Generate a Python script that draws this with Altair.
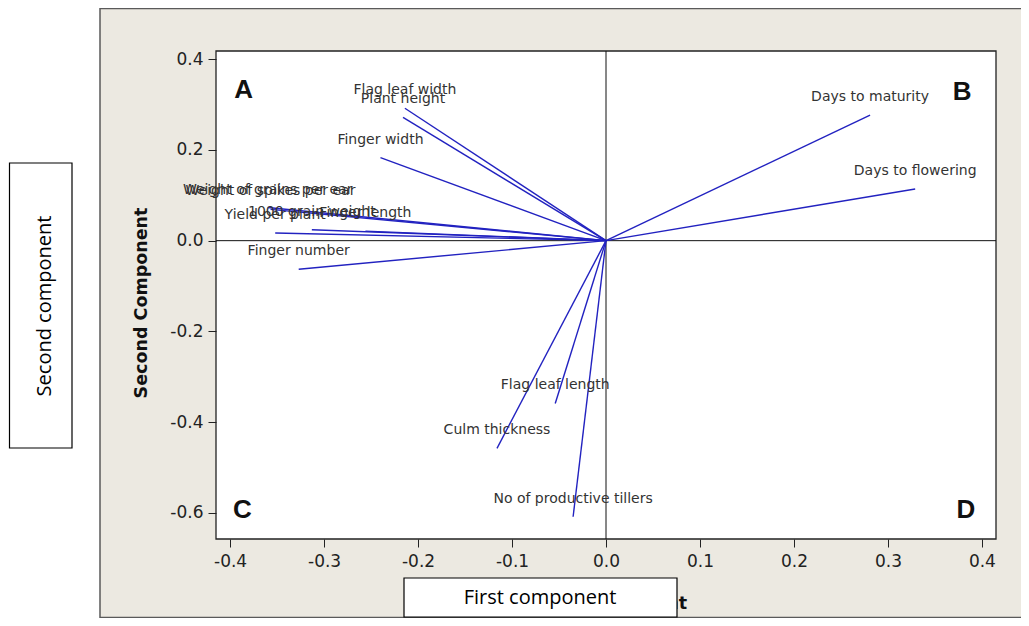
import altair as alt
import pandas as pd

# ---- data ----
variables = [
    "Days to maturity", "Days to flowering", "Flag leaf width", "Plant height",
    "Finger width", "Weight of grains per ear", "Weight of spikes per ear",
    "Yield per plant", "1000 grain weight", "Finger length", "Finger number",
    "Flag leaf length", "Culm thickness", "No of productive tillers",
]
pc1 = [0.281, 0.329, -0.214, -0.216, -0.240, -0.360, -0.357,
       -0.352, -0.313, -0.256, -0.327, -0.054, -0.116, -0.035]
pc2 = [0.277, 0.114, 0.292, 0.272, 0.183, 0.073, 0.069,
       0.017, 0.024, 0.021, -0.063, -0.359, -0.458, -0.609]

quad_letters = ["A", "B", "C", "D"]
quad_x = [-0.3855, 0.379, -0.387, 0.383]
quad_y = [0.332, 0.328, -0.594, -0.594]

x_ticks = [-0.4, -0.3, -0.2, -0.1, 0.0, 0.1, 0.2, 0.3, 0.4]
y_ticks = [-0.6, -0.4, -0.2, 0.0, 0.2, 0.4]

W, H = 780, 488
XDOM = [-0.415, 0.415]
YDOM = [-0.658, 0.4183]

LABEL_EXPR = "datum.value < 0 ? '-' + format(-datum.value, '.1f') : format(datum.value, '.1f')"

AX_X = alt.Axis(values=x_ticks, labelExpr=LABEL_EXPR, title=None, grid=False,
                domain=False, tickSize=8, tickColor="#222", labelColor="#222",
                labelFont="DejaVu Sans", labelFontSize=17, labelPadding=6,
                zindex=1)
AX_Y = alt.Axis(values=y_ticks, labelExpr=LABEL_EXPR, title=None, grid=False,
                domain=False, tickSize=8, tickColor="#222", labelColor="#222",
                labelFont="DejaVu Sans", labelFontSize=17, labelPadding=5,
                zindex=1)


def X(field="pc1"):
    return alt.X(f"{field}:Q", scale=alt.Scale(domain=XDOM, nice=False, zero=False), axis=AX_X)


def Y(field="pc2"):
    return alt.Y(f"{field}:Q", scale=alt.Scale(domain=YDOM, nice=False, zero=False), axis=AX_Y)


vec = pd.DataFrame({"variable": variables, "pc1": pc1, "pc2": pc2})
vec["x0"] = 0.0
vec["y0"] = 0.0
quads = pd.DataFrame({"letter": quad_letters, "pc1": quad_x, "pc2": quad_y})
one = pd.DataFrame({"a": [1]})

# decorative panel behind the plot
panel = alt.Chart(one).mark_rect(fill="#ECE9E1", stroke="#5a5a5a", strokeWidth=1.5).encode(
    x=alt.value(-116), x2=alt.value(813), y=alt.value(-42.5), y2=alt.value(566.5)
)
plot_bg = alt.Chart(one).mark_rect(fill="white", stroke="#222", strokeWidth=1.3).encode(
    x=alt.value(0), x2=alt.value(W), y=alt.value(0), y2=alt.value(H)
)

vline = alt.Chart(pd.DataFrame({"pc1": [0.0]})).mark_rule(color="#111", strokeWidth=1).encode(x=X())
hline = alt.Chart(pd.DataFrame({"pc2": [0.0]})).mark_rule(color="#111", strokeWidth=1).encode(y=Y())

vectors = alt.Chart(vec).mark_rule(color="#2222C0", strokeWidth=1.4).encode(
    x=X(), y=Y(), x2="x0:Q", y2="y0:Q"
)
labels = alt.Chart(vec).mark_text(
    dy=-18, align="center", baseline="middle", font="DejaVu Sans", fontSize=14, color="#333333"
).encode(x=X(), y=Y(), text="variable:N")

letters = alt.Chart(quads).mark_text(
    align="center", baseline="middle", font="Liberation Sans", fontSize=26,
    fontWeight="bold", color="#111"
).encode(x=X(), y=Y(), text="letter:N")

# axis titles (bold, Minitab style)
x_title = alt.Chart(one).mark_text(
    align="center", baseline="middle", font="DejaVu Sans", fontSize=17.5,
    fontWeight="bold", color="#111"
).encode(x=alt.value(389), y=alt.value(553), text=alt.value("First Component"))
y_title = alt.Chart(one).mark_text(
    align="center", baseline="middle", angle=270, font="DejaVu Sans", fontSize=17.5,
    fontWeight="bold", color="#111"
).encode(x=alt.value(-74), y=alt.value(252), text=alt.value("Second Component"))

# overlaid white boxes with plain titles
x_box = alt.Chart(one).mark_rect(fill="white", stroke="black", strokeWidth=1.2).encode(
    x=alt.value(188), x2=alt.value(461), y=alt.value(527), y2=alt.value(566)
)
x_box_text = alt.Chart(one).mark_text(
    align="center", baseline="middle", font="Open Sans", fontSize=20, color="black"
).encode(x=alt.value(324), y=alt.value(547), text=alt.value("First component"))
y_box = alt.Chart(one).mark_rect(fill="white", stroke="black", strokeWidth=1.2).encode(
    x=alt.value(-206.5), x2=alt.value(-144), y=alt.value(112), y2=alt.value(397)
)
y_box_text = alt.Chart(one).mark_text(
    align="center", baseline="middle", angle=270, font="Open Sans", fontSize=20, color="black"
).encode(x=alt.value(-171), y=alt.value(255), text=alt.value("Second component"))

chart = alt.layer(
    panel, plot_bg, vline, hline, vectors, labels, letters,
    x_title, y_title, x_box, x_box_text, y_box, y_box_text
).properties(
    width=W, height=H,
    autosize=alt.AutoSizeParams(type="none"),
    padding={"left": 208, "top": 43, "right": 25, "bottom": 79},
    background="white",
).configure_view(stroke=None)

chart.save("out.html", embed_options={"renderer": "svg", "actions": False})
